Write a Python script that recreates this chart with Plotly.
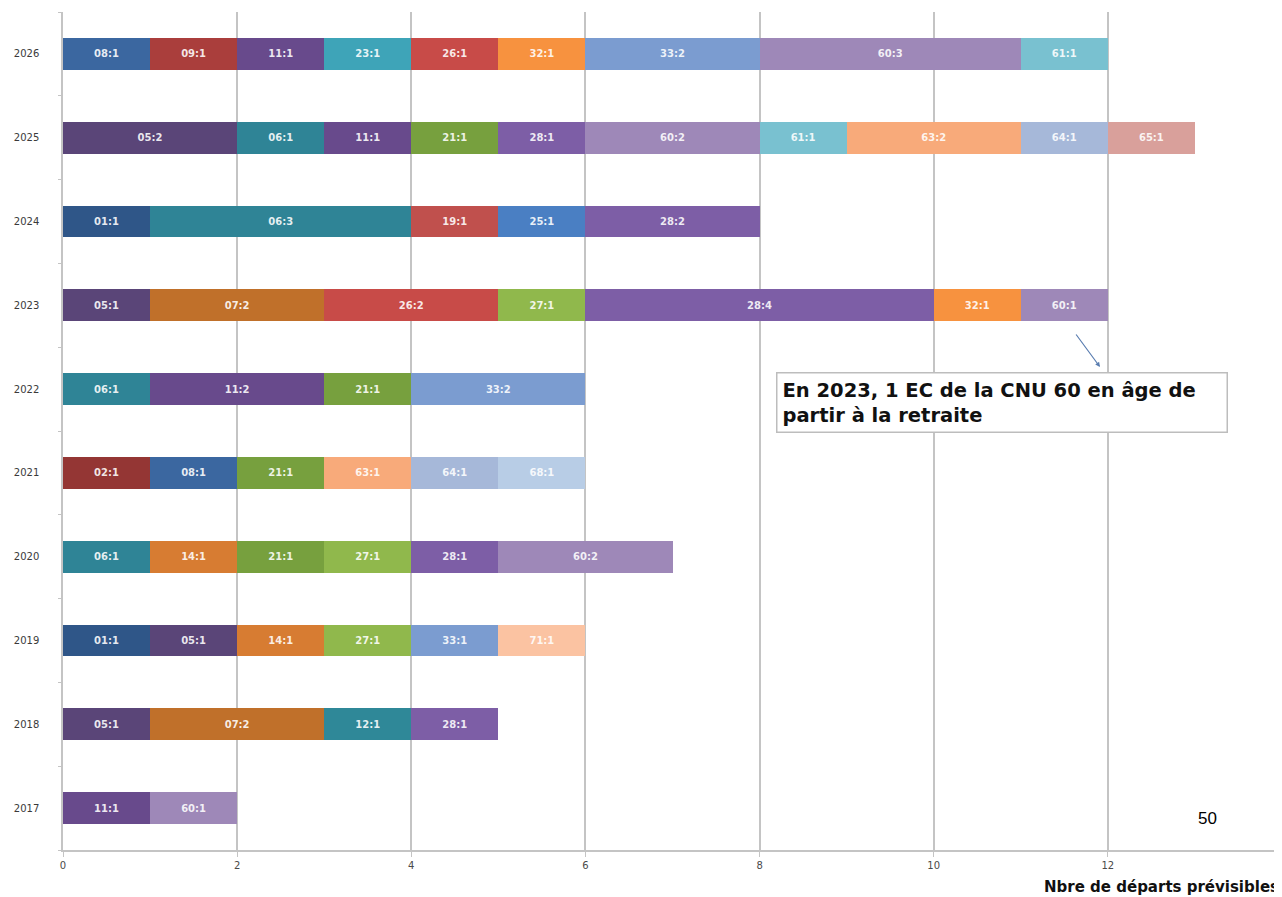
import plotly.graph_objects as go

# ---- Data ----
years = ["2017", "2018", "2019", "2020", "2021", "2022", "2023", "2024", "2025", "2026"]

sec_2017 = ["11", "60"]
cnt_2017 = [1, 1]
sec_2018 = ["05", "07", "12", "28"]
cnt_2018 = [1, 2, 1, 1]
sec_2019 = ["01", "05", "14", "27", "33", "71"]
cnt_2019 = [1, 1, 1, 1, 1, 1]
sec_2020 = ["06", "14", "21", "27", "28", "60"]
cnt_2020 = [1, 1, 1, 1, 1, 2]
sec_2021 = ["02", "08", "21", "63", "64", "68"]
cnt_2021 = [1, 1, 1, 1, 1, 1]
sec_2022 = ["06", "11", "21", "33"]
cnt_2022 = [1, 2, 1, 2]
sec_2023 = ["05", "07", "26", "27", "28", "32", "60"]
cnt_2023 = [1, 2, 2, 1, 4, 1, 1]
sec_2024 = ["01", "06", "19", "25", "28"]
cnt_2024 = [1, 3, 1, 1, 2]
sec_2025 = ["05", "06", "11", "21", "28", "60", "61", "63", "64", "65"]
cnt_2025 = [2, 1, 1, 1, 1, 2, 1, 2, 1, 1]
sec_2026 = ["08", "09", "11", "23", "26", "32", "33", "60", "61"]
cnt_2026 = [1, 1, 1, 1, 1, 1, 2, 3, 1]

x_ticks = [0, 2, 4, 6, 8, 10, 12, 14]
note_text = "En 2023, 1 EC de la CNU 60 en âge de<br>partir à la retraite"
axis_title = "Nbre de départs prévisibles"
page_number = "50"

section_colors = {
    "01": "#2f5688", "02": "#943634", "05": "#5a4578", "06": "#2f8496",
    "07": "#c0702a", "08": "#3b67a0", "09": "#aa3e3c", "11": "#684a8c",
    "12": "#2f8898", "14": "#d77c32", "19": "#c0504d", "21": "#77a03e",
    "23": "#3ea4b8", "25": "#4a7fc3", "26": "#c84b48", "27": "#90b84c",
    "28": "#7d5ea6", "32": "#f7923f", "33": "#7b9cd0", "60": "#9e88b8",
    "61": "#79c1d0", "63": "#f8aa7a", "64": "#a6b8d9", "65": "#d9a09b",
    "68": "#b8cde6", "71": "#fbc3a2",
}

# ---- Build table year -> {section: count} ----
per_year = {
    "2017": (sec_2017, cnt_2017), "2018": (sec_2018, cnt_2018),
    "2019": (sec_2019, cnt_2019), "2020": (sec_2020, cnt_2020),
    "2021": (sec_2021, cnt_2021), "2022": (sec_2022, cnt_2022),
    "2023": (sec_2023, cnt_2023), "2024": (sec_2024, cnt_2024),
    "2025": (sec_2025, cnt_2025), "2026": (sec_2026, cnt_2026),
}
table = {y: dict(zip(s, c)) for y, (s, c) in per_year.items()}
all_sections = sorted({s for y in table for s in table[y]})

fig = go.Figure()
for sec in all_sections:
    xs, ys, txt = [], [], []
    for y in years:
        if sec in table[y]:
            n = table[y][sec]
            xs.append(n)
            ys.append(y)
            txt.append(f"{sec}:{n}")
    fig.add_trace(go.Bar(
        x=xs, y=ys, orientation="h", name=sec,
        marker=dict(color=section_colors.get(sec, "#888888"), line=dict(width=0)),
        text=txt, textposition="inside", insidetextanchor="middle",
        textangle=0, constraintext="none",
        textfont=dict(color="rgba(255,255,255,0.88)", size=10,
                      family="DejaVu Sans", weight="bold"),
        width=0.38, showlegend=False, hoverinfo="x+y+name",
    ))

# page has an 8px body margin: work in page pixels and convert
OFF = 8
W, H = 1282, 897
ml, mt = 63 - OFF, 12 - OFF
plot_right = 1282 - OFF
plot_bottom = 850 - OFF
mr = W - plot_right
mb = H - plot_bottom
pw = plot_right - ml
ph = plot_bottom - mt


def px_x(p):
    return (p - OFF - ml) / pw


def px_y(p):
    return (plot_bottom - (p - OFF)) / ph


fig.update_layout(
    width=W, height=H, barmode="stack",
    margin=dict(l=ml, r=mr, t=mt, b=mb, autoexpand=False),
    plot_bgcolor="white", paper_bgcolor="white",
    xaxis=dict(
        range=[0, 14], tickvals=x_ticks, showgrid=True,
        gridcolor="#c4c4c4", gridwidth=1.5, zeroline=False,
        showline=True, linecolor="#c4c4c4", linewidth=1.5,
        ticks="outside", ticklen=5, tickcolor="#c4c4c4",
        tickfont=dict(size=10, color="#4a4a4a", family="DejaVu Sans"),
        automargin=False,
    ),
    yaxis=dict(
        type="category", categoryorder="array", categoryarray=years,
        showgrid=False, showline=True, linecolor="#c4c4c4", linewidth=1.5,
        ticks="outside", ticklen=3, tickcolor="#c4c4c4", tickson="boundaries",
        tickfont=dict(size=10, color="#3a3a3a", family="DejaVu Sans"),
        ticklabelstandoff=20, automargin=False,
    ),
    font=dict(family="DejaVu Sans"),
)

# callout box
fig.add_annotation(
    xref="paper", yref="paper", x=px_x(776), y=px_y(372),
    xanchor="left", yanchor="top", showarrow=False,
    text=note_text, align="left",
    font=dict(size=19.5, color="#111111", family="DejaVu Sans", weight="bold"),
    bgcolor="white", bordercolor="#bdbdbd", borderwidth=1.5, borderpad=5,
    width=439,
)
# arrow
fig.add_annotation(
    xref="paper", yref="paper", x=px_x(1100), y=px_y(367),
    ax=-25, ay=-34, axref="pixel", ayref="pixel",
    text="", showarrow=True, arrowhead=2, arrowsize=0.8, arrowwidth=1.2,
    arrowcolor="#5a7db0",
)
# page number
fig.add_annotation(
    xref="paper", yref="paper", x=px_x(1207), y=px_y(818),
    xanchor="center", yanchor="middle", showarrow=False,
    text=page_number, font=dict(size=17, color="#000000", family="Liberation Sans"),
)
# axis title (bottom right corner)
fig.add_annotation(
    xref="paper", yref="paper", x=px_x(1281), y=px_y(887),
    xanchor="right", yanchor="middle", showarrow=False,
    text=axis_title, font=dict(size=15, color="#111111", family="DejaVu Sans", weight="bold"),
)

fig.write_html("out.html")
